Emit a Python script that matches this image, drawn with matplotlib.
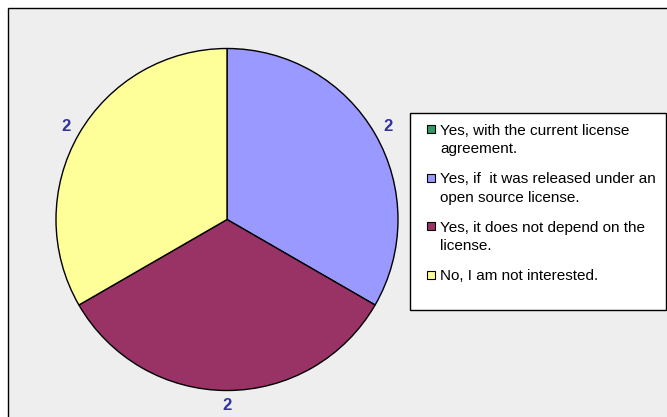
import matplotlib
matplotlib.use("Agg")
import matplotlib.pyplot as plt
from matplotlib.patches import Rectangle

categories = [
    "Yes, with the current license\nagreement.",
    "Yes, if  it was released under an\nopen source license.",
    "Yes, it does not depend on the\nlicense.",
    "No, I am not interested.",
]
values = [0, 2, 2, 2]
colors = ["#339966", "#9999FF", "#993366", "#FFFF99"]

W, H = 667, 417
plt.rcParams["font.family"] = ["Liberation Sans", "DejaVu Sans"]
fig = plt.figure(figsize=(W / 100, H / 100), dpi=100, facecolor="white")


def px(x, y, w, h):
    # pixel box (top-left origin) -> figure fraction
    return [x / W, 1 - (y + h) / H, w / W, h / H]


# grey plot area
bg = fig.add_axes([0, 0, 1, 1], zorder=0)
bg.set_xlim(0, W)
bg.set_ylim(H, 0)
bg.axis("off")
bg.add_patch(Rectangle((7.5, 7.5), W + 20, H + 20, facecolor="#EEEEEE",
                       edgecolor="#000000", lw=1.0))

# pie
cx, cy, r = 227, 219.5, 171
ax = fig.add_axes(px(cx - r, cy - r, 2 * r, 2 * r), zorder=1)
shown = [v > 0 for v in values]
wedges, texts = ax.pie(
    [v for v, s in zip(values, shown) if s],
    colors=[c for c, s in zip(colors, shown) if s],
    labels=[str(v) for v, s in zip(values, shown) if s],
    startangle=90, counterclock=False, radius=1.0,
    labeldistance=1.09,
    wedgeprops=dict(edgecolor="black", linewidth=1.0),
    textprops=dict(color="#333399", fontsize=12, fontweight="bold"),
)
ax.set_xlim(-1, 1)
ax.set_ylim(-1, 1)
ax.set_aspect("equal")
ax.axis("off")
for t in texts:
    t.set_ha("center")
    t.set_va("center")
    t.set_clip_on(False)

# legend
lx, ly, lw, lh = 409.5, 112.5, 256, 197
bg.add_patch(Rectangle((lx, ly), lw, lh, facecolor="white", edgecolor="black",
                       lw=1.0, zorder=2))
row_y = [129, 177.5, 226, 275]
for i, (lab, col) in enumerate(zip(categories, colors)):
    y = row_y[i]
    bg.add_patch(Rectangle((427, y - 4), 8, 8, facecolor=col, edgecolor="black",
                           lw=0.8, zorder=3))
    bg.text(440, y - 5.5, lab, fontsize=11, color="black", va="top", ha="left",
            linespacing=1.45, zorder=3)

fig.savefig("out.png", dpi=100, facecolor="white")
